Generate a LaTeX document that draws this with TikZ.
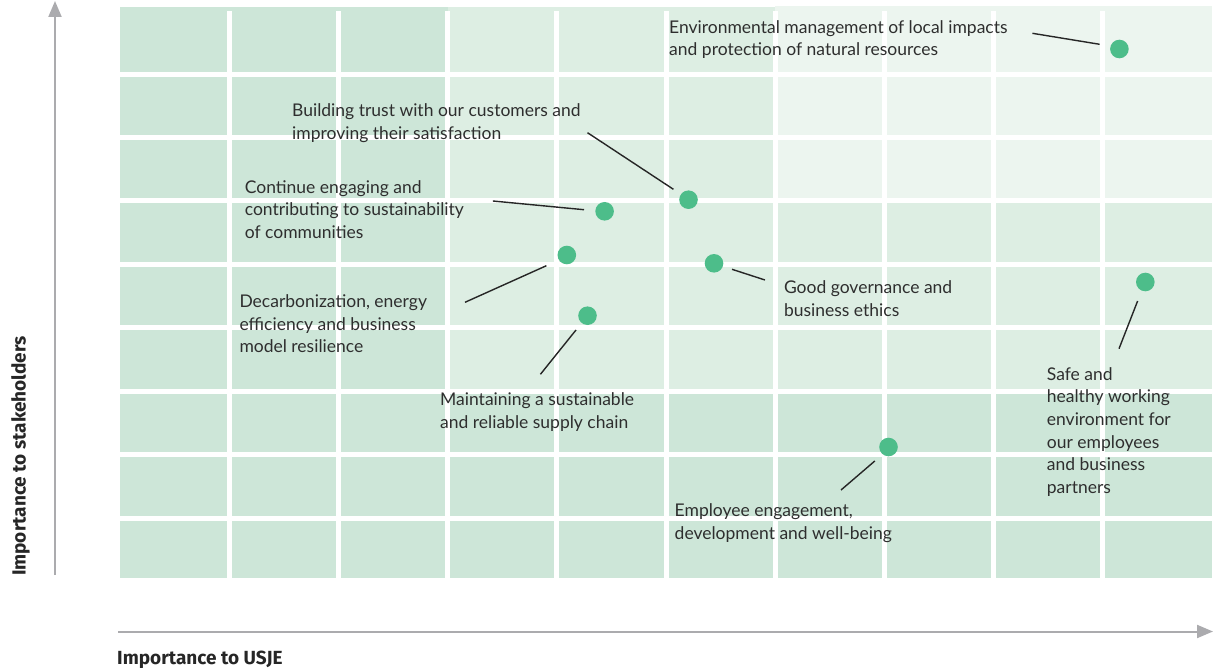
\documentclass[tikz,border=0pt]{standalone}
\usepackage{fontspec}
\setmainfont{Lato}
\newfontfamily\axisfont{Fira Sans}
\usetikzlibrary{arrows.meta}
\definecolor{celldark}{HTML}{CDE6D8}
\definecolor{cellmid}{HTML}{DDEEE3}
\definecolor{celllight}{HTML}{ECF5EF}
\definecolor{dotgreen}{HTML}{4DBD8A}
\definecolor{axisgray}{HTML}{ABABAE}
\definecolor{txt}{HTML}{2E2E2E}
\begin{document}
\begin{tikzpicture}[x=1pt,y=-1pt,
  gridline/.style={white, line width=5pt},
  dot/.style={circle, fill=dotgreen, minimum size=18.6pt, inner sep=0pt},
  lbl/.style={anchor=base west, align=left, inner sep=0pt, text=txt, font=\fontsize{17.5}{22.7}\selectfont},
  leader/.style={line width=1.4pt, draw=black!85},
  axisline/.style={axisgray, line width=2pt, -{Triangle[length=16pt,width=13pt]}},
  axislabel/.style={text=black!85, inner sep=0pt, font=\axisfont\bfseries\fontsize{19}{22}\selectfont}]
\useasboundingbox (0,0) rectangle (1214,668);
% background cells
\fill[celldark] (120,7) rectangle (447.6,391.2);
\fill[celldark] (120,391.2) rectangle (1212,578);
\fill[cellmid] (447.6,7) rectangle (775.2,391.2);
\fill[cellmid] (775.2,200.9) rectangle (1212,391.2);
\fill[celllight] (775.2,6) rectangle (1212,200.9);
% grid
\foreach \i in {1,...,9} \draw[gridline] ({120+109.2*\i},11) -- ({120+109.2*\i},578);
\foreach \j in {1,...,8} \draw[gridline] (120,{10.6+63.43*\j}) -- (1212,{10.6+63.43*\j});
% axes
\coordinate (yb) at (55,575);
\coordinate (yt) at (55,1);
\coordinate (xl) at (118,631.5);
\coordinate (xr) at (1213,631.5);
\draw[axisline] (yb) -- (yt);
\draw[axisline] (xl) -- (xr);
\node[axislabel, anchor=base, rotate=90] (ylab) at (25.5,456) {Importance to stakeholders};
\node[axislabel, anchor=base west] (xlab) at (117,664) {Importance to USJE};
% dots
\node[dot] (d1) at (1119.4,49) {};
\node[dot] (d2) at (688.5,199.7) {};
\node[dot] (d3) at (604.6,211.3) {};
\node[dot] (d4) at (566.8,255) {};
\node[dot] (d5) at (714,263.3) {};
\node[dot] (d6) at (587.5,315.7) {};
\node[dot] (d7) at (1145.3,282) {};
\node[dot] (d8) at (888.5,447) {};
% labels (anchor = baseline of last line)
\node[lbl] (t1) at (669,56.0) {Environmental management of local impacts\\and protection of natural resources};
\node[lbl] (t2) at (292,139.4) {Building trust with our customers and\\improving their satisfaction};
\node[lbl] (t3) at (244.6,238.7) {Continue engaging and\\contributing to sustainability\\of communities};
\node[lbl] (t4) at (239.3,352.7) {Decarbonization, energy\\efficiency and business\\model resilience};
\node[lbl] (t5) at (783.8,316) {Good governance and\\business ethics};
\node[lbl] (t6) at (440,428) {Maintaining a sustainable\\and reliable supply chain};
\node[lbl] (t7) at (1046.7,493.5) {Safe and\\healthy working\\environment for\\our employees\\and business\\partners};
\node[lbl] (t8) at (674.5,539.4) {Employee engagement,\\development and well-being};
% leader lines
\coordinate (l1a) at (1032.4,33.3); \coordinate (l1b) at (1099.6,44.3);
\coordinate (l2a) at (587.5,132.7); \coordinate (l2b) at (673.4,189.3);
\coordinate (l3a) at (492.9,201);   \coordinate (l3b) at (584,209.7);
\coordinate (l4a) at (465,302.3);   \coordinate (l4b) at (546.4,265.7);
\coordinate (l5a) at (765,280);     \coordinate (l5b) at (732,269.3);
\coordinate (l6a) at (540.4,374.3); \coordinate (l6b) at (576,330);
\coordinate (l7a) at (1119,348.7);  \coordinate (l7b) at (1137.6,301);
\coordinate (l8a) at (841,490);     \coordinate (l8b) at (874.8,461);
\foreach \k in {1,...,8} \draw[leader] (l\k a) -- (l\k b);
\end{tikzpicture}
\end{document}
